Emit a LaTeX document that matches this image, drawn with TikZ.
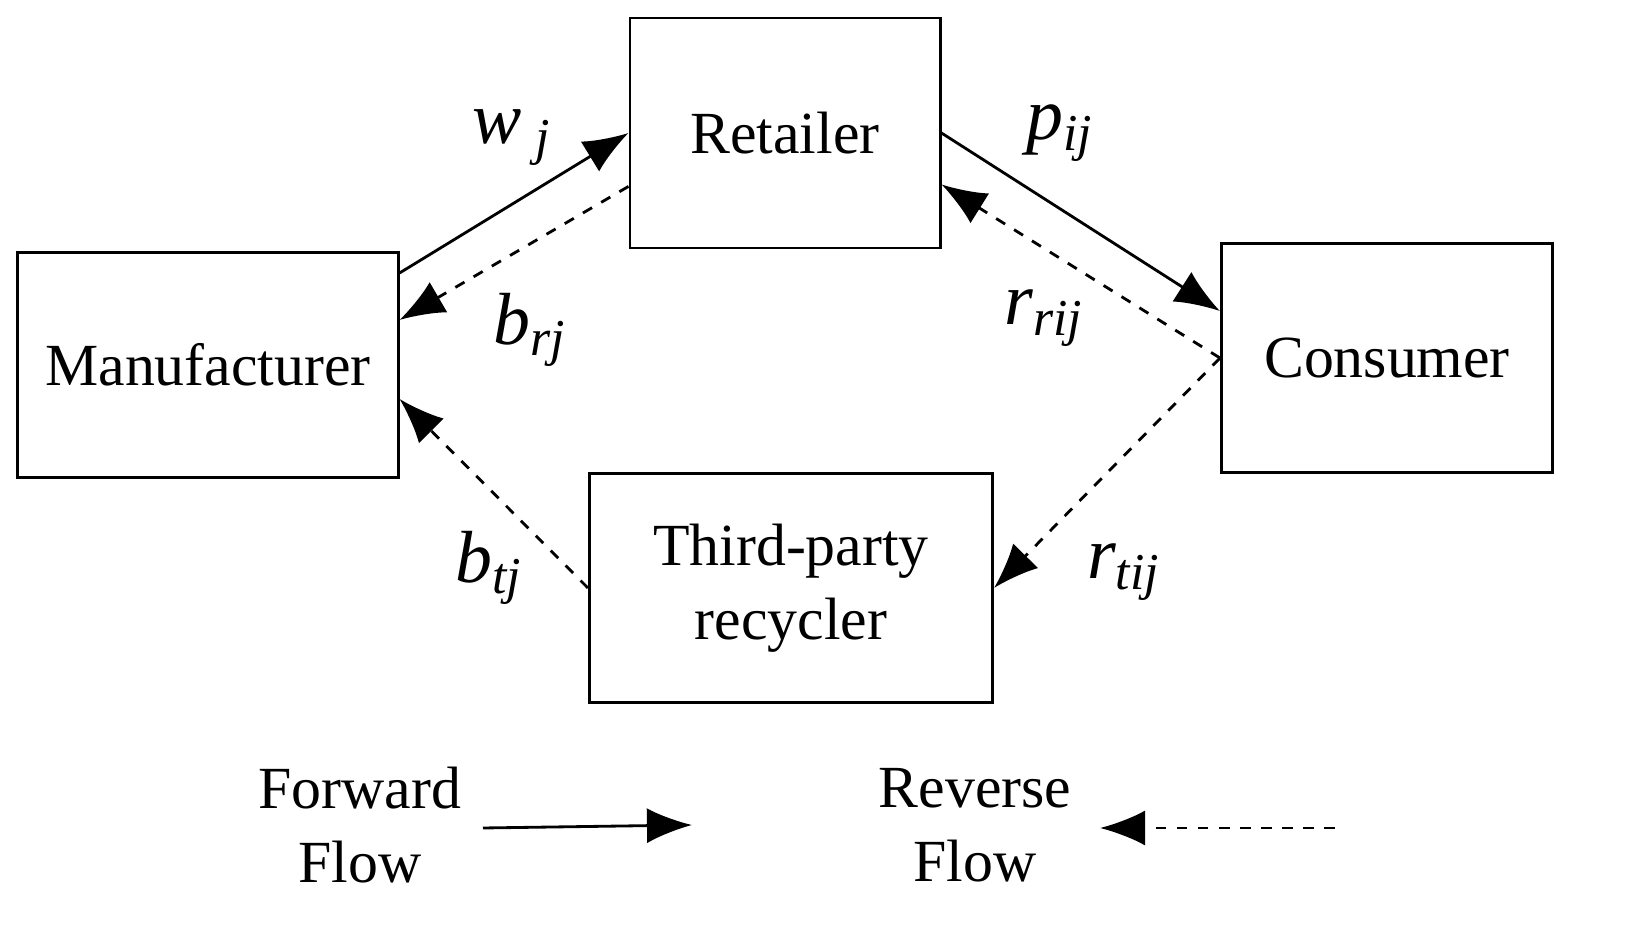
\documentclass[tikz,border=0pt]{standalone}
\usepackage{fontspec}
\setmainfont{Liberation Serif}
\usetikzlibrary{arrows.meta}
\begin{document}
\begin{tikzpicture}[x=0.01cm,y=-0.01cm]
    \tikzset{box/.style={draw,thick,inner sep=0pt,font=\fontsize{17}{21}\selectfont,align=center},
        lab/.style={font=\fontsize{21}{24}\selectfont\itshape},
        fwd/.style={thick,-{Latex[length=4.5mm,width=3.5mm]}},
        rev/.style={thick,dashed,-{Latex[length=4.5mm,width=3.5mm]}}}
    \useasboundingbox (0,0) rectangle (1650,937);
    \node[box,minimum width=3.1cm,minimum height=2.3cm] (ret) at (785,133) {Retailer};
    \node[box,minimum width=3.8cm,minimum height=2.25cm] (man) at (208,365) {Manufacturer};
    \node[box,minimum width=3.31cm,minimum height=2.29cm] (con) at (1387,358) {Consumer};
    \node[box,minimum width=4.03cm,minimum height=2.29cm] (tpr) at (791,588) {Third-party\\recycler};
    \draw[fwd] ([yshift=-0.22cm]man.north east) -- (ret.west);
    \draw[rev] ([yshift=0.63cm]ret.south west) -- ([yshift=0.45cm]man.east);
    \draw[fwd] (ret.east) -- ([yshift=-0.69cm]con.north west);
    \draw[rev] (con.west) -- ([yshift=0.65cm]ret.south east);
    \draw[rev] (con.west) -- (tpr.east);
    \draw[rev] (tpr.west) -- ([yshift=0.8cm]man.south east);
    \node[lab] (wj) at (512,138) {w\textsubscript{ j}};
    \node[lab] (brj) at (530,330) {b\textsubscript{rj}};
    \node[lab] (pij) at (1060,133) {p\textsubscript{ij}};
    \node[lab] (rrij) at (1044,318) {r\textsubscript{rij}};
    \node[lab] (btj) at (489,568) {b\textsubscript{tj}};
    \node[lab] (rtij) at (1124,572) {r\textsubscript{tij}};
    % legend
    \node[box,draw=none,align=center] (fwdtxt) at (360,825) {Forward\\Flow};
    \node[box,draw=none,align=center] (revtxt) at (975,825) {Reverse\\Flow};
    \coordinate (f1) at (483,828);
    \coordinate (f2) at (692,825);
    \coordinate (r1) at (1335,828);
    \coordinate (r2) at (1100,828);
    \draw[fwd] (f1) -- (f2);
    \draw[rev] (r1) -- (r2);
\end{tikzpicture}
\end{document}
